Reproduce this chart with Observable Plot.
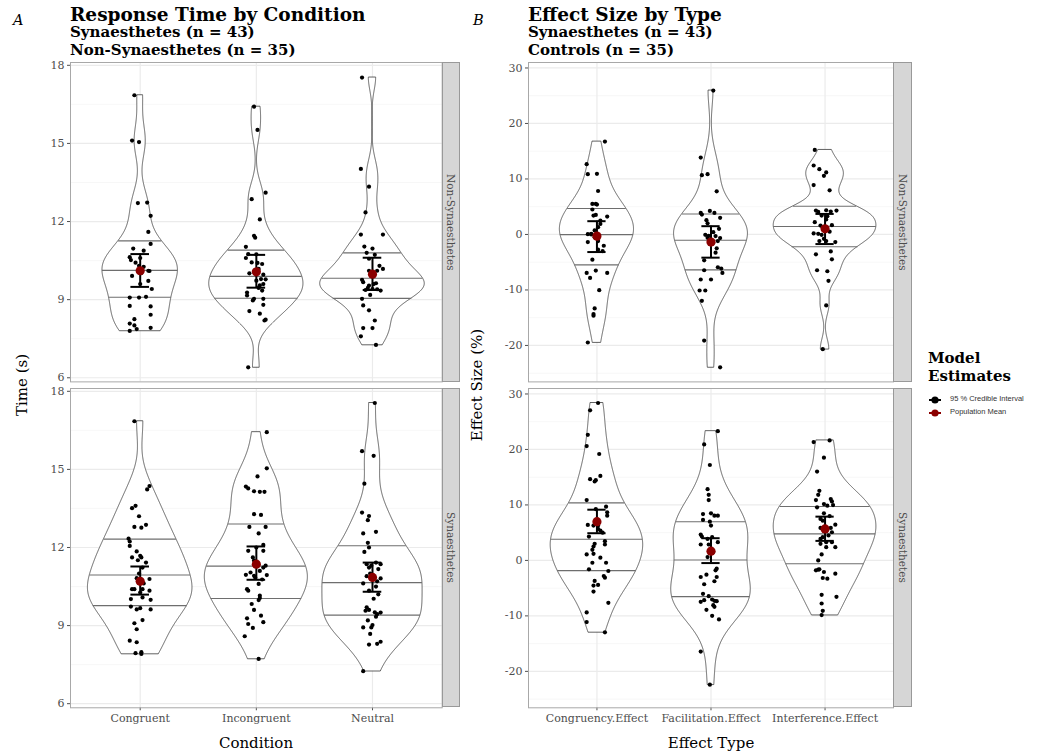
<!DOCTYPE html>
<html><head><meta charset="utf-8">
<script src="https://cdn.jsdelivr.net/npm/d3@7"></script>
<script src="https://cdn.jsdelivr.net/npm/@observablehq/plot@0.6"></script>
<style>
body{margin:0;background:#fff;}
#root{position:relative;width:1037px;height:755px;font-family:"DejaVu Serif",serif;overflow:hidden;background:#fff;}
.abs{position:absolute;white-space:nowrap;line-height:1;}
.plotbox{position:absolute;}
.plotbox svg{overflow:visible;}
.strip{position:absolute;background:#D6D6D6;border:1px solid #999;box-sizing:border-box;display:flex;align-items:center;justify-content:center;}
.strip span{writing-mode:vertical-rl;font-size:10.5px;color:#4D4D4D;font-family:"DejaVu Serif",serif;}
</style></head><body><div id="root"></div><script>
// ---------- categories / labels ----------
const conditions = ["Congruent", "Incongruent", "Neutral"];
const effectTypes = ["Congruency.Effect", "Facilitation.Effect", "Interference.Effect"];
const groups = ["Non-Synaesthetes", "Synaesthetes"];
const rtTicks = [6, 9, 12, 15, 18];
const rtMinorTicks = [7.5, 10.5, 13.5, 16.5];
const esTicks = [-20, -10, 0, 10, 20, 30];
const esMinorTicks = [-25, -15, -5, 5, 15, 25];

// ---------- Panel A: response times (s) ----------
const rtNonSynCongruent = [16.85,15.11,15.05,12.71,12.73,12.22,11.60,11.14,10.96,10.88,10.63,10.52,10.60,10.42,10.30,10.26,10.11,10.10,9.91,10.02,9.72,9.41,9.08,9.08,9.11,8.76,8.74,8.42,8.25,8.08,8.01,7.87,7.80,7.92,9.60];
const rtNonSynCongruentJitter = [-0.05,-0.07,-0.01,-0.02,0.06,0.09,0.07,0.09,-0.06,0.03,-0.09,-0.08,0.00,-0.04,-0.01,0.03,0.07,0.08,-0.07,0.01,0.07,0.10,-0.09,-0.01,0.05,-0.09,0.09,0.09,-0.05,-0.09,-0.05,-0.03,-0.09,0.09,0.00];
const rtNonSynIncongruent = [16.41,15.52,13.11,12.86,12.08,11.45,11.38,11.03,10.75,10.74,10.60,10.43,10.41,10.37,10.18,9.96,9.79,9.78,9.55,9.27,9.16,9.03,8.97,8.80,8.56,8.46,8.23,8.20,6.40,10.01,9.73,9.60,9.45,9.03,9.35];
const rtNonSynIncongruentJitter = [-0.02,0.01,0.08,-0.04,0.03,-0.02,-0.01,-0.09,-0.07,0.00,-0.09,-0.04,0.01,0.05,0.02,0.06,0.04,0.08,0.03,-0.08,-0.08,0.06,-0.03,0.06,-0.06,0.03,0.08,0.07,-0.07,-0.06,0.00,0.06,0.02,-0.02,0.05];
const rtNonSynNeutral = [17.53,14.02,13.34,12.35,11.50,11.50,11.04,10.96,10.80,10.72,10.57,10.30,10.18,10.11,9.76,9.67,9.91,9.63,9.54,9.45,9.41,9.40,9.35,9.18,9.03,8.78,8.59,8.20,7.91,7.91,7.59,7.26,9.37,9.60,10.11];
const rtNonSynNeutralJitter = [-0.09,-0.10,-0.03,-0.06,-0.10,0.09,-0.07,0.00,-0.05,0.02,-0.03,0.06,0.09,0.04,-0.09,-0.08,-0.01,0.03,-0.03,-0.04,0.00,0.04,0.07,-0.02,-0.09,-0.08,-0.03,0.02,-0.08,0.00,-0.10,0.03,-0.06,0.01,-0.03];
const rtSynCongruent = [16.85,14.23,14.36,13.60,13.51,13.20,12.79,12.76,12.87,12.34,12.23,12.06,11.85,11.62,11.68,11.62,11.51,11.42,11.23,10.82,10.79,10.40,10.40,10.27,10.34,10.02,10.08,9.99,9.73,9.62,9.67,9.62,9.09,9.21,8.86,8.42,8.36,7.94,7.91,7.98,10.62,10.40,11.00];
const rtSynCongruentJitter = [-0.05,0.06,0.08,-0.04,-0.07,-0.01,-0.05,0.01,0.05,-0.10,-0.09,-0.09,-0.03,-0.07,0.00,0.01,-0.02,0.05,0.02,-0.03,0.08,-0.07,-0.05,0.00,0.08,-0.08,0.02,0.09,-0.08,-0.03,0.00,0.09,-0.05,0.02,-0.03,-0.09,-0.03,-0.04,0.01,0.01,0.03,0.02,-0.01];
const rtSynIncongruent = [16.43,15.04,14.73,14.34,14.27,14.16,14.14,14.14,13.28,13.25,12.79,12.79,12.54,12.00,11.87,11.87,11.62,11.30,11.23,11.04,10.95,10.94,10.91,10.85,10.77,10.40,10.34,10.15,10.06,9.98,9.83,9.28,9.38,9.13,9.06,8.91,8.59,7.72,11.50,10.60,9.60,12.10,11.10];
const rtSynIncongruentJitter = [0.09,0.09,0.01,-0.09,-0.07,-0.02,0.03,0.07,-0.02,0.04,-0.06,0.08,0.02,0.00,-0.07,0.06,-0.03,0.08,0.06,-0.05,-0.09,0.09,-0.02,-0.01,0.05,-0.08,-0.07,0.03,0.03,0.02,-0.04,-0.08,0.04,0.06,-0.07,-0.03,-0.10,0.02,-0.02,0.02,-0.02,0.06,0.03];
const rtSynNeutral = [17.55,15.70,15.52,14.45,13.34,13.21,13.05,12.54,12.60,12.18,12.00,11.83,11.36,11.42,11.36,11.23,11.17,10.81,10.62,10.34,10.03,9.57,9.60,9.51,9.44,9.34,8.93,9.02,8.93,8.68,8.27,8.30,8.38,7.25,10.90,10.70,11.00,10.50,9.70,9.50,11.30,10.20,9.20];
const rtSynNeutralJitter = [0.02,-0.09,0.01,-0.07,-0.09,-0.03,-0.04,-0.08,0.03,-0.04,-0.03,-0.07,-0.05,0.03,0.07,-0.03,0.05,0.07,-0.08,-0.03,0.01,-0.06,-0.03,0.02,0.04,0.03,-0.08,0.00,-0.01,-0.02,-0.03,0.04,0.07,-0.08,-0.05,0.04,-0.02,0.03,-0.05,0.07,-0.01,0.05,-0.04];

// model estimates (population mean, 95% credible interval), order = conditions
const rtNonSynMean = [10.11, 10.07, 9.98];
const rtNonSynLower = [9.49, 9.46, 9.37];
const rtNonSynUpper = [10.75, 10.72, 10.61];
const rtSynMean = [10.70, 11.36, 10.85];
const rtSynLower = [10.19, 10.76, 10.30];
const rtSynUpper = [11.27, 12.04, 11.42];

// ---------- Panel B: effect sizes (%) ----------
const esNonSynCongruency = [16.73,12.66,10.87,10.93,7.83,5.50,5.50,5.38,3.40,3.52,3.23,1.90,1.31,0.06,0.12,0.72,-1.37,-1.19,-2.03,-2.75,-4.54,-6.51,-6.93,-6.93,-7.83,-10.04,-13.32,-14.34,-14.64,-19.47,2.50,0.00,-0.50,4.50,-3.00];
const esNonSynCongruencyJitter = [0.07,-0.09,-0.08,0.00,0.01,-0.04,-0.01,0.00,-0.03,-0.01,0.09,0.03,0.01,-0.08,-0.05,-0.02,-0.08,0.01,0.06,0.01,-0.04,-0.01,-0.09,0.09,-0.06,0.02,-0.02,-0.03,-0.03,-0.08,0.03,-0.05,-0.02,-0.04,0.05];
const esNonSynFacilitation = [25.93,13.86,10.69,10.87,7.77,3.88,3.58,4.24,3.88,2.57,-0.06,-0.24,-0.60,0.42,-0.66,-1.19,-3.29,-4.66,-5.91,-6.15,-6.93,-6.45,-8.12,-8.12,-10.10,-10.10,-11.95,-19.12,-23.95,1.02,-2.50,3.00,-0.30,-1.50,2.00];
const esNonSynFacilitationJitter = [0.02,-0.09,-0.08,-0.03,0.05,-0.09,-0.08,-0.01,0.03,-0.04,-0.05,-0.02,-0.03,0.02,0.08,0.06,0.04,-0.06,0.06,0.09,0.10,-0.06,-0.09,0.00,-0.10,-0.05,-0.08,-0.06,0.08,0.07,0.05,0.08,0.04,0.02,-0.03];
const esNonSynInterference = [15.23,12.43,11.77,11.17,10.57,7.95,8.90,4.30,4.06,4.36,4.12,4.30,3.40,3.29,2.21,1.60,1.67,1.20,0.18,0.12,-0.06,-0.78,-1.19,-1.19,-1.37,-3.05,-3.58,-4.48,-6.45,-6.63,-8.36,-12.78,-20.67,2.70,0.50];
const esNonSynInterferenceJitter = [-0.09,-0.10,-0.05,0.01,-0.01,0.04,-0.10,-0.08,-0.06,0.01,0.05,0.10,-0.03,0.02,-0.09,-0.04,0.06,-0.02,-0.10,-0.06,-0.03,-0.01,-0.05,0.01,0.09,0.05,-0.08,0.06,-0.07,0.02,0.03,0.01,-0.02,0.01,0.04];
const esSynCongruency = [28.37,27.06,22.64,20.61,19.18,14.64,14.22,14.46,15.23,10.87,9.26,9.68,8.66,8.06,6.39,6.27,6.27,5.68,5.38,4.30,2.99,2.51,3.46,2.87,1.91,1.08,1.19,-0.42,-0.42,-1.61,-1.91,-2.81,-3.11,-3.70,-4.54,-4.42,-5.62,-7.65,-9.38,-11.11,-12.96,5.00,0.50];
const esSynCongruencyJitter = [0.01,-0.06,-0.08,-0.09,0.02,-0.06,-0.02,-0.01,0.03,-0.09,-0.01,0.08,0.09,0.09,-0.08,-0.03,0.01,0.01,0.03,-0.07,-0.02,-0.03,0.07,0.07,-0.04,-0.09,-0.03,-0.04,0.08,-0.07,0.10,0.06,0.07,-0.02,-0.03,0.01,-0.03,0.10,-0.09,-0.09,0.07,0.05,0.03];
const esSynFacilitation = [23.30,20.91,17.20,12.84,11.83,10.87,8.36,8.48,8.06,8.06,7.29,6.99,6.27,4.66,4.30,4.18,3.88,2.87,2.87,3.29,0.60,-2.57,-1.49,-1.79,-2.99,-2.99,-4.30,-3.76,-6.03,-6.45,-7.47,-7.17,-7.05,-7.29,-7.35,-8.06,-8.36,-8.90,-9.98,-10.63,-16.43,-22.40,1.50];
const esSynFacilitationJitter = [0.06,-0.06,-0.01,-0.03,-0.02,-0.02,-0.07,0.00,0.03,0.06,-0.07,-0.01,0.00,-0.09,-0.08,0.01,-0.03,-0.09,-0.02,0.06,-0.03,-0.04,0.05,0.04,0.05,-0.09,-0.06,0.03,-0.07,-0.02,-0.09,-0.06,0.01,0.03,0.05,0.02,0.03,-0.04,0.01,0.07,-0.09,-0.01,0.02];
const esSynInterference = [21.63,21.33,18.52,16.01,12.54,11.83,10.87,11.05,10.63,10.16,9.86,9.56,9.98,8.48,7.47,7.17,6.45,5.85,5.85,5.08,4.18,3.88,3.29,3.29,2.99,2.39,1.08,0.00,-1.79,-1.61,-2.09,-2.39,-3.17,-3.29,-6.21,-6.57,-7.77,-9.08,-9.86,2.39,-1.67,4.50,8.00];
const esSynInterferenceJitter = [0.04,-0.10,-0.01,-0.07,-0.05,-0.06,-0.08,0.05,0.06,-0.01,0.02,-0.07,0.07,-0.01,-0.04,-0.02,0.09,-0.04,0.05,0.06,-0.02,-0.04,0.01,0.06,-0.04,0.09,-0.03,-0.06,-0.08,-0.05,-0.01,0.09,-0.02,0.02,-0.03,0.10,-0.03,-0.02,-0.03,0.01,-0.06,0.03,0.04];

const esNonSynMean = [-0.30, -1.37, 1.02];
const esNonSynLower = [-3.17, -4.18, -1.73];
const esNonSynUpper = [2.39, 1.49, 3.70];
const esSynMean = [6.99, 1.67, 5.68];
const esSynLower = [4.90, -0.48, 3.52];
const esSynUpper = [9.14, 4.00, 7.89];

// ---------- helpers ----------
function bwNrd0(x) {
  const s = [...x].sort(d3.ascending);
  const sd = d3.deviation(s);
  const iqr = d3.quantileSorted(s, 0.75) - d3.quantileSorted(s, 0.25);
  let lo = Math.min(sd, iqr / 1.34);
  if (!(lo > 0)) lo = sd || Math.abs(s[0]) || 1;
  return 0.9 * lo * Math.pow(s.length, -0.2);
}
function kde(values) {
  const bw = bwNrd0(values);
  const [mn, mx] = d3.extent(values);
  const N = 512, out = [];
  const c = 1 / (values.length * bw * Math.sqrt(2 * Math.PI));
  for (let i = 0; i < N; i++) {
    const y = mn + (mx - mn) * i / (N - 1);
    let s = 0;
    for (const v of values) { const u = (y - v) / bw; s += Math.exp(-0.5 * u * u); }
    out.push({y, density: s * c});
  }
  return out;
}
function interp(xs, ys, x) {
  let i = d3.bisectLeft(xs, x);
  if (i <= 0) return ys[0];
  if (i >= xs.length) return ys[ys.length - 1];
  const t = (x - xs[i - 1]) / (xs[i] - xs[i - 1] || 1);
  return ys[i - 1] + t * (ys[i] - ys[i - 1]);
}

const root = document.getElementById("root");
function addText(txt, css) {
  const d = document.createElement("div");
  d.className = "abs"; d.textContent = txt; Object.assign(d.style, css); root.appendChild(d); return d;
}

const ML = 40, MT = 1, MR = 1, MB = 34;

function facetPlot(o) {
  const dens = o.series.map(s => kde(s.values));
  const maxD = d3.max(dens, g => d3.max(g, p => p.density));
  const violins = [], quants = [], points = [];
  dens.forEach((grid, i) => {
    const pos = i + 1;
    grid.forEach(p => { const w = 0.45 * p.density / maxD; violins.push({cat: o.cats[i], y: p.y, x1: pos - w, x2: pos + w}); });
    const total = d3.sum(grid, p => p.density);
    let acc = 0;
    const ecdf = grid.map(p => (acc += p.density) / total);
    const ys = grid.map(p => p.y), ds = grid.map(p => p.density);
    for (const q of [0.25, 0.5, 0.75]) {
      const yq = interp(ecdf, ys, q);
      const w = 0.45 * interp(ys, ds, yq) / maxD;
      quants.push({y: yq, x1: pos - w, x2: pos + w});
    }
    o.series[i].values.forEach((v, j) => points.push({x: pos + o.series[i].jitter[j], y: v}));
  });
  const est = o.cats.map((c, i) => ({x: i + 1, mean: o.mean[i], lo: o.lower[i], hi: o.upper[i]}));
  const chart = Plot.plot({
    width: o.panelW + ML + MR,
    height: o.panelH + MT + (o.showX ? MB : 1),
    marginLeft: ML, marginRight: MR, marginTop: MT, marginBottom: o.showX ? MB : 1,
    style: {fontFamily: "DejaVu Serif, serif", fontSize: "11px", color: "#4D4D4D", background: "transparent", overflow: "visible"},
    x: {domain: [0.4, 3.6], axis: o.showX ? "bottom" : null, ticks: [1, 2, 3], tickFormat: d => o.cats[d - 1], tickSize: 3, tickPadding: 3, label: null},
    y: {domain: o.yDomain, ticks: o.major, tickSize: 3, tickPadding: 3, tickFormat: d => String(d), label: null},
    marks: [
      Plot.ruleY(o.minor, {stroke: "#F3F3F3", strokeWidth: 0.7}),
      Plot.ruleY(o.major, {stroke: "#EBEBEB", strokeWidth: 1.2}),
      Plot.ruleX([1, 2, 3], {stroke: "#EBEBEB", strokeWidth: 1.2}),
      Plot.areaX(violins, {y: "y", x1: "x1", x2: "x2", z: "cat", fill: "white", stroke: "#3a3a3a", strokeWidth: 0.8}),
      Plot.ruleY(quants, {y: "y", x1: "x1", x2: "x2", stroke: "#6e6e6e", strokeWidth: 1.1}),
      Plot.dot(points, {x: "x", y: "y", r: 2.1, fill: "black", stroke: null}),
      Plot.ruleX(est, {x: "x", y1: "lo", y2: "hi", stroke: "black", strokeWidth: 2}),
      Plot.ruleY(est, {y: "lo", x1: d => d.x - 0.08, x2: d => d.x + 0.08, stroke: "black", strokeWidth: 2}),
      Plot.ruleY(est, {y: "hi", x1: d => d.x - 0.08, x2: d => d.x + 0.08, stroke: "black", strokeWidth: 2}),
      Plot.dot(est, {x: "x", y: "mean", r: 4.6, fill: "#8B0000", stroke: null}),
      Plot.frame({stroke: "#a8a8a8", strokeWidth: 1})
    ]
  });
  const box = document.createElement("div");
  box.className = "plotbox";
  box.style.left = (o.left - ML) + "px";
  box.style.top = (o.top - MT) + "px";
  box.appendChild(chart);
  root.appendChild(box);
  // strip
  const st = document.createElement("div");
  st.className = "strip";
  Object.assign(st.style, {left: (o.left + o.panelW) + "px", top: o.top + "px", width: "18.5px", height: o.panelH + "px"});
  const sp = document.createElement("span"); sp.textContent = o.group; st.appendChild(sp);
  root.appendChild(st);
}

function expandExtent(arrs) {
  const [a, b] = d3.extent(arrs.flat());
  const p = (b - a) * 0.05;
  return [a - p, b + p];
}

const rows = [{top: 62.3, h: 319.4}, {top: 388, h: 319.3}];
const rtDomain = expandExtent([rtNonSynCongruent, rtNonSynIncongruent, rtNonSynNeutral, rtSynCongruent, rtSynIncongruent, rtSynNeutral]);
const esDomain = expandExtent([esNonSynCongruency, esNonSynFacilitation, esNonSynInterference, esSynCongruency, esSynFacilitation, esSynInterference]);

const panelA = {left: 70, panelW: 371.7, cats: conditions, yDomain: rtDomain, major: rtTicks, minor: rtMinorTicks};
const panelB = {left: 528.3, panelW: 365, cats: effectTypes, yDomain: esDomain, major: esTicks, minor: esMinorTicks};

facetPlot({...panelA, top: rows[0].top, panelH: rows[0].h, showX: false, group: groups[0],
  series: [{values: rtNonSynCongruent, jitter: rtNonSynCongruentJitter}, {values: rtNonSynIncongruent, jitter: rtNonSynIncongruentJitter}, {values: rtNonSynNeutral, jitter: rtNonSynNeutralJitter}],
  mean: rtNonSynMean, lower: rtNonSynLower, upper: rtNonSynUpper});
facetPlot({...panelA, top: rows[1].top, panelH: rows[1].h, showX: true, group: groups[1],
  series: [{values: rtSynCongruent, jitter: rtSynCongruentJitter}, {values: rtSynIncongruent, jitter: rtSynIncongruentJitter}, {values: rtSynNeutral, jitter: rtSynNeutralJitter}],
  mean: rtSynMean, lower: rtSynLower, upper: rtSynUpper});
facetPlot({...panelB, top: rows[0].top, panelH: rows[0].h, showX: false, group: groups[0],
  series: [{values: esNonSynCongruency, jitter: esNonSynCongruencyJitter}, {values: esNonSynFacilitation, jitter: esNonSynFacilitationJitter}, {values: esNonSynInterference, jitter: esNonSynInterferenceJitter}],
  mean: esNonSynMean, lower: esNonSynLower, upper: esNonSynUpper});
facetPlot({...panelB, top: rows[1].top, panelH: rows[1].h, showX: true, group: groups[1],
  series: [{values: esSynCongruency, jitter: esSynCongruencyJitter}, {values: esSynFacilitation, jitter: esSynFacilitationJitter}, {values: esSynInterference, jitter: esSynInterferenceJitter}],
  mean: esSynMean, lower: esSynLower, upper: esSynUpper});

// ---------- titles ----------
addText("A", {left: "13px", top: "12.7px", fontSize: "14.5px", fontStyle: "italic"});
addText("B", {left: "473px", top: "12.7px", fontSize: "14.5px", fontStyle: "italic"});
addText("Response Time by Condition", {left: "70px", top: "5.5px", fontSize: "18.5px", fontWeight: "bold", color: "#000"});
addText("Synaesthetes (n = 43)", {left: "70px", top: "24.5px", fontSize: "15px", fontWeight: "bold"});
addText("Non-Synaesthetes (n = 35)", {left: "70px", top: "43px", fontSize: "15px", fontWeight: "bold"});
addText("Effect Size by Type", {left: "528px", top: "5.5px", fontSize: "18.5px", fontWeight: "bold"});
addText("Synaesthetes (n = 43)", {left: "528px", top: "24.5px", fontSize: "15px", fontWeight: "bold"});
addText("Controls (n = 35)", {left: "528px", top: "43px", fontSize: "15px", fontWeight: "bold"});

// axis titles
addText("Condition", {left: "256px", top: "735.5px", fontSize: "15px", transform: "translateX(-50%)"});
addText("Effect Type", {left: "711px", top: "735.5px", fontSize: "15px", transform: "translateX(-50%)"});
addText("Time (s)", {left: "22px", top: "385px", fontSize: "15px", transform: "translate(-50%,-50%) rotate(-90deg)"});
addText("Effect Size (%)", {left: "477px", top: "385px", fontSize: "15px", transform: "translate(-50%,-50%) rotate(-90deg)"});

// legend
addText("Model", {left: "928px", top: "350.5px", fontSize: "15px", fontWeight: "bold"});
addText("Estimates", {left: "928px", top: "369px", fontSize: "15px", fontWeight: "bold"});
const legendItems = [{label: "95 % Credible Interval", color: "black"}, {label: "Population Mean", color: "#8B0000"}];
legendItems.forEach((it, i) => {
  const y = 399.5 + i * 13;
  const svg = d3.select(root).append("svg").attr("width", 16).attr("height", 12)
    .style("position", "absolute").style("left", "927px").style("top", (y - 6) + "px");
  svg.append("line").attr("x1", 2).attr("x2", 14).attr("y1", 6).attr("y2", 6).attr("stroke", it.color).attr("stroke-width", 2);
  svg.append("circle").attr("cx", 8).attr("cy", 6).attr("r", 3.6).attr("fill", it.color);
  addText(it.label, {left: "950px", top: (y - 4.5) + "px", fontSize: "7.5px", fontFamily: "Liberation Sans, Arial, sans-serif", color: "#333"});
});
</script></body></html>
